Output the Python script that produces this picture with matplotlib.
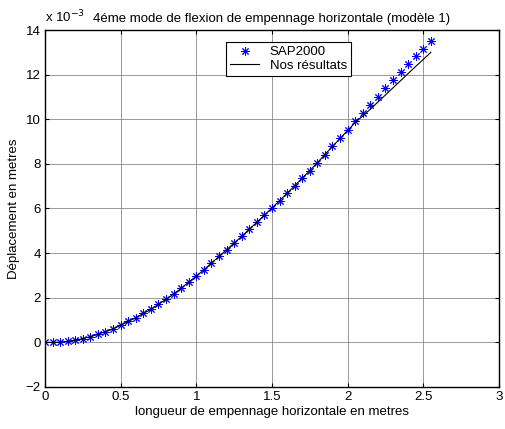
import matplotlib
matplotlib.use("Agg")
import matplotlib.pyplot as plt

# longueur (m)
x = [0.00, 0.05, 0.10, 0.15, 0.20, 0.25, 0.30, 0.35, 0.40, 0.45,
     0.50, 0.55, 0.60, 0.65, 0.70, 0.75, 0.80, 0.85, 0.90, 0.95,
     1.00, 1.05, 1.10, 1.15, 1.20, 1.25, 1.30, 1.35, 1.40, 1.45,
     1.50, 1.55, 1.60, 1.65, 1.70, 1.75, 1.80, 1.85, 1.90, 1.95,
     2.00, 2.05, 2.10, 2.15, 2.20, 2.25, 2.30, 2.35, 2.40, 2.45,
     2.50, 2.55]

# deplacements (x 1e-3 m)
sap2000 = [0.00, 0.00, 0.01, 0.04, 0.10, 0.17, 0.25, 0.36, 0.48, 0.60,
           0.77, 0.94, 1.10, 1.30, 1.48, 1.70, 1.93, 2.17, 2.42, 2.70,
           2.97, 3.25, 3.55, 3.85, 4.15, 4.45, 4.75, 5.07, 5.38, 5.70,
           6.02, 6.35, 6.68, 7.02, 7.36, 7.70, 8.05, 8.42, 8.78, 9.14,
           9.50, 9.90, 10.28, 10.66, 11.02, 11.38, 11.75, 12.10, 12.47, 12.83,
           13.16, 13.52]

nos_resultats = [0.00, 0.00, 0.01, 0.04, 0.10, 0.17, 0.25, 0.36, 0.48, 0.60,
                 0.77, 0.94, 1.10, 1.30, 1.48, 1.70, 1.93, 2.17, 2.42, 2.70,
                 2.97, 3.25, 3.55, 3.85, 4.15, 4.45, 4.75, 5.07, 5.38, 5.70,
                 6.02, 6.35, 6.68, 7.02, 7.36, 7.70, 8.05, 8.42, 8.78, 9.14,
                 9.50, 9.85, 10.15, 10.45, 10.77, 11.09, 11.41, 11.73, 12.05, 12.37,
                 12.68, 13.00]

plt.rcParams['font.family'] = ['Liberation Sans', 'DejaVu Sans']
fs = 9.5

fig = plt.figure(figsize=(5.05, 4.29), dpi=100)
ax = fig.add_axes([0.089, 0.098, 0.899, 0.832])

# asterisk like matlab '*'
ax.plot(x, sap2000, linestyle='none', marker=(8, 2, 0), color='#0000ff',
        markersize=6, markeredgewidth=0.7, label='SAP2000', zorder=3)
ax.plot(x, nos_resultats, '-', color='black', linewidth=0.8,
        label='Nos résultats', zorder=4)

ax.set_xlim(0, 3)
ax.set_ylim(-2, 14)
ax.set_xticks([0, 0.5, 1, 1.5, 2, 2.5, 3])
ax.set_xticklabels(['0', '0.5', '1', '1.5', '2', '2.5', '3'])
ax.set_yticks(range(-2, 15, 2))
ax.grid(True, color='#808080', linewidth=0.7, alpha=0.8)
ax.tick_params(direction='in', top=True, right=True, labelsize=fs, length=3, pad=3)
for s in ax.spines.values():
    s.set_linewidth(1.0)

ax.set_xlabel('longueur de empennage horizontale en metres', fontsize=fs, labelpad=2)
ax.set_ylabel('Déplacement en metres', fontsize=fs, labelpad=4)
ax.set_title('4éme mode de flexion de empennage horizontale (modèle 1)', fontsize=fs, pad=6)
ax.text(0.0, 1.012, r'x 10$^{-3}$', transform=ax.transAxes, fontsize=fs,
        ha='left', va='bottom')

leg = ax.legend(loc='upper left', bbox_to_anchor=(0.385, 0.985), fontsize=fs,
                frameon=True, fancybox=False, edgecolor='black', framealpha=1,
                borderpad=0.3, labelspacing=0.1, handlelength=2.2, numpoints=1)
leg.get_frame().set_linewidth(0.8)

fig.savefig('out.png', dpi=100)
